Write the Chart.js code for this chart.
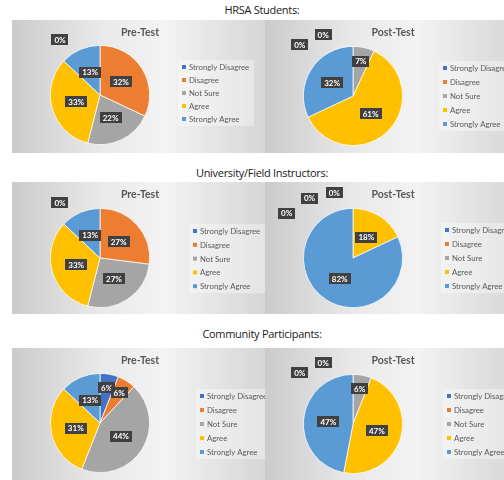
<!DOCTYPE html>
<html>
<head>
<meta charset="utf-8">
<script src="https://cdn.jsdelivr.net/npm/chart.js@4.4.0/dist/chart.umd.min.js"></script>
<style>
  body { margin: 0; width: 504px; height: 480px; overflow: hidden; background: #fff; position: relative; font-family: Lato, "Open Sans", sans-serif; }
  .sec-title { position: absolute; left: 0; width: 524px; text-align: center; font-family: "Open Sans", sans-serif; font-size: 11px; letter-spacing: -0.3px; font-weight: 400; color: #1a1a1a; line-height: 14px; }
  .panel { position: absolute; width: 253px; overflow: hidden;
           background: linear-gradient(to right, #cbcbcb 0%, #e9e9e9 35%, #f3f3f3 60%, #d6d6d6 100%); }
  .panel canvas { position: absolute; left: 0; top: 0; }
</style>
</head>
<body>
<div class="sec-title" style="top:3px">HRSA Students:</div>
<div class="sec-title" style="top:166px">University/Field Instructors:</div>
<div class="sec-title" style="top:327px">Community Participants:</div>

<div class="panel" style="left:12px;top:20px;height:133px"><canvas id="c1" width="253" height="133"></canvas></div>
<div class="panel" style="left:265px;top:20px;height:133px"><canvas id="c2" width="253" height="133"></canvas></div>
<div class="panel" style="left:12px;top:182px;height:132px"><canvas id="c3" width="253" height="132"></canvas></div>
<div class="panel" style="left:265px;top:182px;height:132px"><canvas id="c4" width="253" height="132"></canvas></div>
<div class="panel" style="left:12px;top:348px;height:133px"><canvas id="c5" width="253" height="133"></canvas></div>
<div class="panel" style="left:265px;top:348px;height:133px"><canvas id="c6" width="253" height="133"></canvas></div>

<script>
// ---------------------------------------------------------------
//  Survey data (percent of respondents)
// ---------------------------------------------------------------
const categories = ["Strongly Disagree", "Disagree", "Not Sure", "Agree", "Strongly Agree"];
const colors     = ["#4472C4", "#ED7D31", "#A5A5A5", "#FFC000", "#5B9BD5"];

const hrsaPre   = [0, 32, 22, 33, 13];
const hrsaPost  = [0, 0, 7, 61, 32];
const instrPre  = [0, 27, 27, 33, 13];
const instrPost = [0, 0, 0, 18, 82];
const commPre   = [6, 6, 44, 31, 13];
const commPost  = [0, 0, 6, 47, 47];

// ---------------------------------------------------------------
//  Panel-local layout (pie centre, legend placement)
// ---------------------------------------------------------------
const panels = [
  { id: "c1", title: "Pre-Test",  data: hrsaPre,   cy: 75, legendX: 170, legendY: 47, gap: 13 },
  { id: "c2", title: "Post-Test", data: hrsaPost,  cy: 76, legendX: 178, legendY: 48, gap: 14 },
  { id: "c3", title: "Pre-Test",  data: instrPre,  cy: 76, legendX: 181, legendY: 49, gap: 13.8 },
  { id: "c4", title: "Post-Test", data: instrPost, cy: 76, legendX: 180, legendY: 48, gap: 14 },
  { id: "c5", title: "Pre-Test",  data: commPre,   cy: 75, legendX: 188, legendY: 48, gap: 14 },
  { id: "c6", title: "Post-Test", data: commPost,  cy: 76, legendX: 182, legendY: 48, gap: 14 },
];

const PIE_CX = 88;
const PIE_R = 50;

// Dark boxed percentage label
function drawTag(ctx, txt, x, y) {
  ctx.font = "bold 8px Lato, sans-serif";
  const w = ctx.measureText(txt).width + 6;
  const h = 11;
  ctx.fillStyle = "#404040";
  ctx.fillRect(Math.round(x - w / 2), Math.round(y - h / 2), Math.round(w), h);
  ctx.fillStyle = "#ffffff";
  ctx.textAlign = "center";
  ctx.textBaseline = "middle";
  ctx.fillText(txt, x, y + 0.5);
}

// Inline plugin: title, legend and data labels in the Excel style
const excelDecor = {
  id: "excelDecor",
  afterDraw(chart, args, opts) {
    const c = chart.ctx;
    const meta = chart.getDatasetMeta(0);
    const values = chart.data.datasets[0].data;
    c.save();

    // title
    c.fillStyle = "#595959";
    c.font = "bold 10.5px Lato, sans-serif";
    c.textAlign = "center";
    c.textBaseline = "middle";
    c.fillText(opts.title, 128, 13);

    // legend box + entries
    const n = chart.data.labels.length;
    c.fillStyle = "rgba(255,255,255,0.35)";
    c.fillRect(opts.legendX - 4, opts.legendY - 7, 76, opts.gap * (n - 1) + 14);
    c.font = "7.8px Lato, sans-serif";
    c.textAlign = "left";
    chart.data.labels.forEach((lab, i) => {
      const y = opts.legendY + i * opts.gap;
      c.fillStyle = chart.data.datasets[0].backgroundColor[i];
      c.fillRect(opts.legendX, y - 2, 4, 4);
      c.fillStyle = "#595959";
      c.fillText(lab, opts.legendX + 7, y + 0.5);
    });

    // data labels
    const zeros = [];
    meta.data.forEach((arc, i) => {
      const v = values[i];
      if (v === 0) { zeros.push(i); return; }
      const mid = (arc.startAngle + arc.endAngle) / 2;
      const d = arc.outerRadius * (v < 10 ? 0.72 : 0.5);
      drawTag(c, v + "%", arc.x + Math.cos(mid) * d, arc.y + Math.sin(mid) * d);
    });
    // zero slices: stacked outside, upper-left of the pie
    const k = zeros.length;
    zeros.forEach((idx, j) => {
      const arc = meta.data[idx];
      const pos = k - 1 - j;                    // 0 = closest to the top
      const ang = (-126 + ((k - 1) / 2 - pos) * 20) * Math.PI / 180;
      const d = 68 + 6 * pos;
      drawTag(c, "0%", arc.x + Math.cos(ang) * d, arc.y + Math.sin(ang) * d);
    });
    c.restore();
  },
};

panels.forEach(p => {
  const cv = document.getElementById(p.id);
  const W = cv.width, H = cv.height;
  new Chart(cv.getContext("2d"), {
    type: "pie",
    data: {
      labels: categories,
      datasets: [{
        data: p.data,
        backgroundColor: colors,
        borderColor: "#ffffff",
        borderWidth: 0.75,
      }],
    },
    options: {
      responsive: false,
      animation: false,
      layout: {
        padding: {
          left: PIE_CX - PIE_R,
          right: W - (PIE_CX + PIE_R),
          top: p.cy - PIE_R,
          bottom: H - (p.cy + PIE_R),
        },
      },
      plugins: {
        legend: { display: false },
        tooltip: { enabled: false },
        excelDecor: { title: p.title, legendX: p.legendX, legendY: p.legendY, gap: p.gap },
      },
    },
    plugins: [excelDecor],
  });
});
</script>
</body>
</html>
